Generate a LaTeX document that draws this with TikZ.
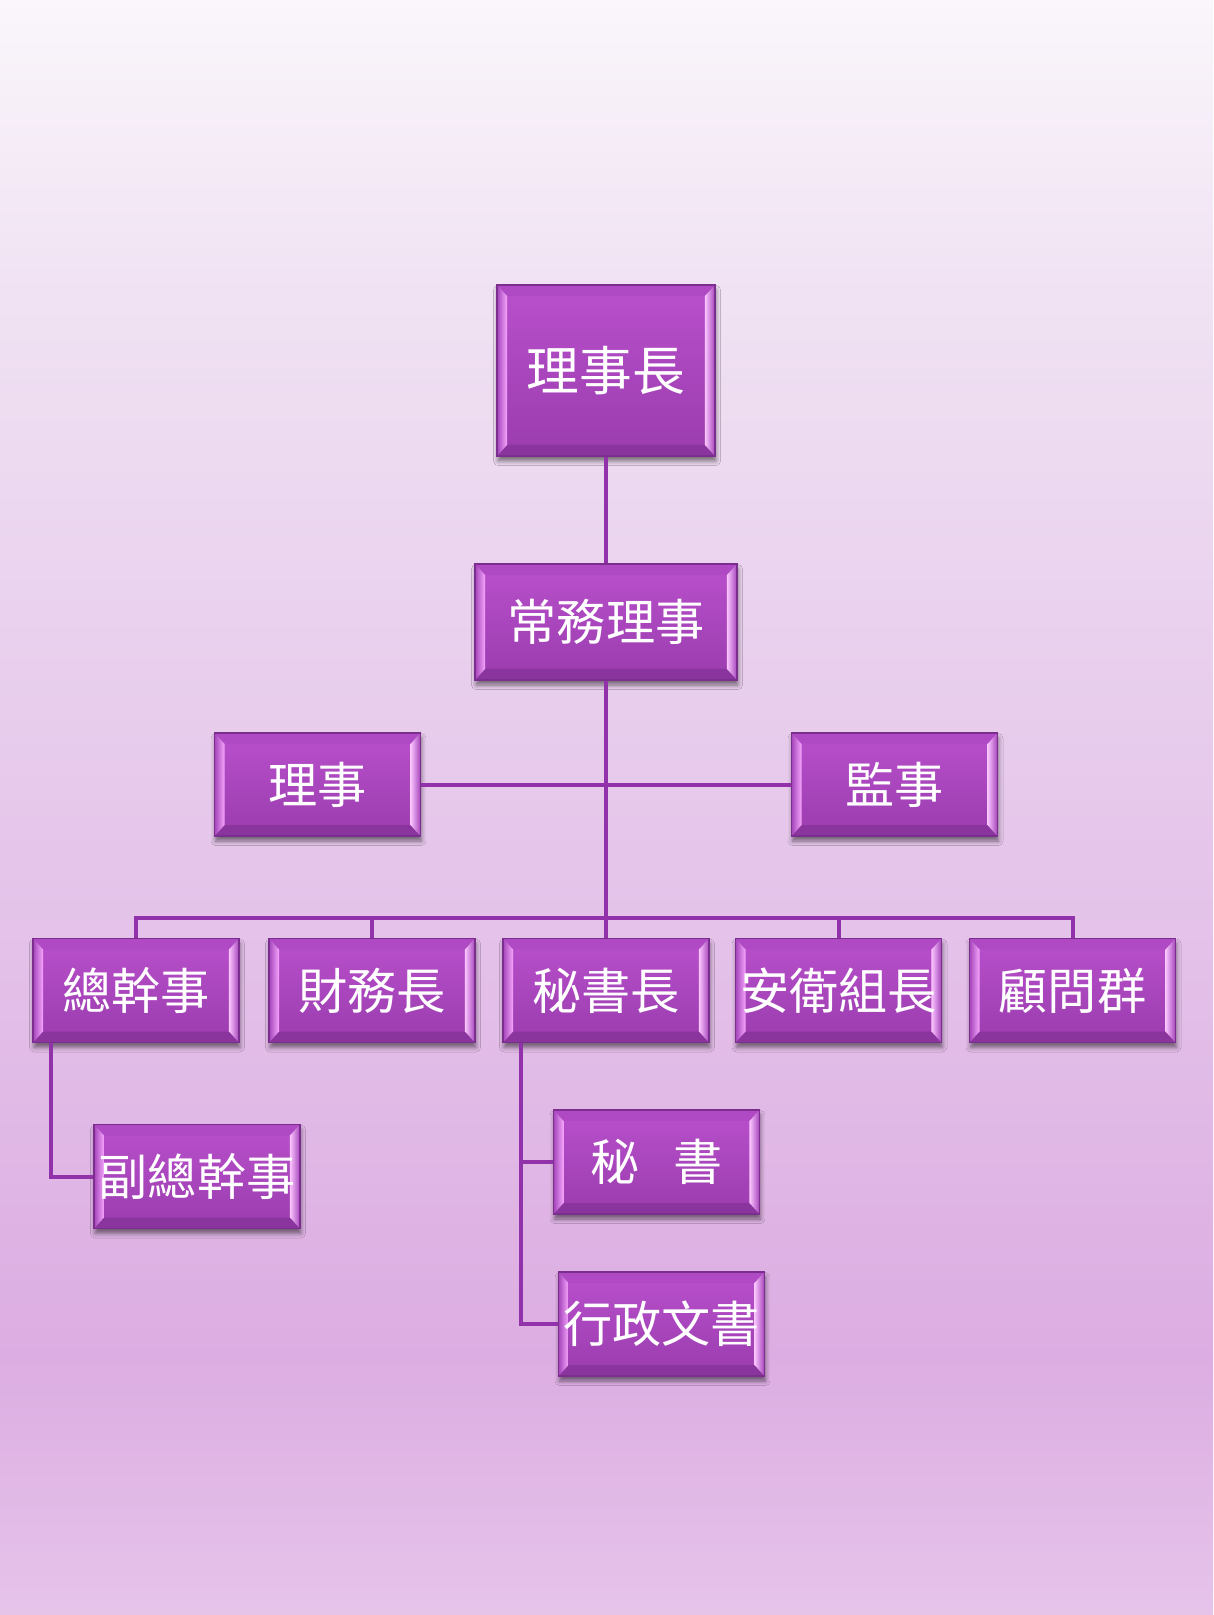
\documentclass[tikz,border=0pt]{standalone}
\usepackage{fontspec}
\newfontfamily\cjk{Noto Sans CJK TC}
\usetikzlibrary{calc, shadows.blur}
\definecolor{bgA}{HTML}{FAF6FB}
\definecolor{bgB}{HTML}{F0E2F3}
\definecolor{bgC}{HTML}{E6C8EB}
\definecolor{bgD}{HTML}{DCADE2}
\definecolor{bgE}{HTML}{E6C4EA}
\definecolor{boxtop}{HTML}{B950CC}
\definecolor{boxbot}{HTML}{9A3CAE}
\definecolor{boxline}{HTML}{7C2E8E}
\definecolor{rimtop}{HTML}{B04AC4}
\definecolor{rimbot}{HTML}{8A349E}
\definecolor{rimout}{HTML}{A444BA}
\definecolor{rimin}{HTML}{F6A6FD}
\definecolor{rimhi}{HTML}{FBC4FF}
\definecolor{linkc}{HTML}{9232AA}
\pgfdeclareverticalshading{pagebg}{100bp}{color(0bp)=(bgE); color(25bp)=(bgE);
  color(33bp)=(bgD); color(50bp)=(bgC); color(66bp)=(bgB); color(75bp)=(bgA); color(100bp)=(bgA)}
\newcommand\bevelrim{%
  \coordinate (bsw) at (path picture bounding box.south west);
  \coordinate (bne) at (path picture bounding box.north east);
  \fill[rimtop] (bsw|-bne) -- (bne) -- ($(bne)+(-0.2cm,-0.22cm)$) -- ($(bsw|-bne)+(0.2cm,-0.22cm)$) -- cycle;
  \fill[rimbot] (bsw) -- (bsw-|bne) -- ($(bsw-|bne)+(-0.2cm,0.22cm)$) -- ($(bsw)+(0.2cm,0.22cm)$) -- cycle;
  \shade[left color=rimout, right color=rimin] (bsw) -- (bsw|-bne) -- ($(bsw|-bne)+(0.2cm,-0.22cm)$) -- ($(bsw)+(0.2cm,0.22cm)$) -- cycle;
  \shade[left color=rimhi, right color=rimout] (bsw-|bne) -- (bne) -- ($(bne)+(-0.2cm,-0.22cm)$) -- ($(bsw-|bne)+(-0.2cm,0.22cm)$) -- cycle;
}
\tikzset{office/.style={rectangle, draw=boxline, line width=0.8pt, top color=boxtop, bottom color=boxbot,
           text=white, font=\cjk\fontsize{28}{30}\selectfont, inner sep=0pt,
           minimum width=4.12cm, minimum height=2.08cm, path picture={\bevelrim},
           blur shadow={shadow xshift=0.02cm, shadow yshift=-0.1cm, shadow blur radius=0.09cm, shadow opacity=50}},
         link/.style={draw=linkc, line width=0.08cm},
        }
\begin{document}
\begin{tikzpicture}[x=0.02cm, y=-0.02cm]
        \shade[shading=pagebg](0,0)rectangle(1213,1615);
        \useasboundingbox(0,0)rectangle(1213,1615);

        \node[office, minimum width=4.36cm, minimum height=3.42cm, font=\cjk\fontsize{30}{32}\selectfont](chair)at(606,370.5){理事長};
        \node[office, minimum width=5.24cm, minimum height=2.32cm](standing)at(606,622){常務理事};
        \node[office, minimum height=2.06cm](director)at(317.5,784.5){理事};
        \node[office, minimum height=2.06cm](supervisor)at(894.5,784.5){監事};

        \node[office](general)at(136,990.5){總幹事};
        \node[office](treasurer)at(372,990.5){財務長};
        \node[office](chief)at(606,990.5){秘書長};
        \node[office](safety)at(838.5,990.5){安衛組長};
        \node[office](advisors)at(1072.5,990.5){顧問群};

        \node[office](deputy)at(197,1176.5){副總幹事};
        \node[office](secretary)at(656.5,1162){秘\hspace{0.7em}書};
        \node[office](clerk)at(661.5,1324){行政文書};

        \coordinate(bus)at(606,918);
        \coordinate(gtap)at([xshift=0.38cm]general.south west);
        \coordinate(ctap)at([xshift=0.38cm]chief.south west);

        \draw[link](chair)--(standing);
        \draw[link](standing)--(bus);
        \draw[link](director)--(supervisor);
        \foreach \n in {general, treasurer, chief, safety, advisors}
            \draw[link](bus)-|(\n.north);

        \draw[link](gtap)|-(deputy.west);
        \draw[link](ctap)|-(secretary.west);
        \draw[link](ctap)|-(clerk.west);
    \end{tikzpicture}
\end{document}
